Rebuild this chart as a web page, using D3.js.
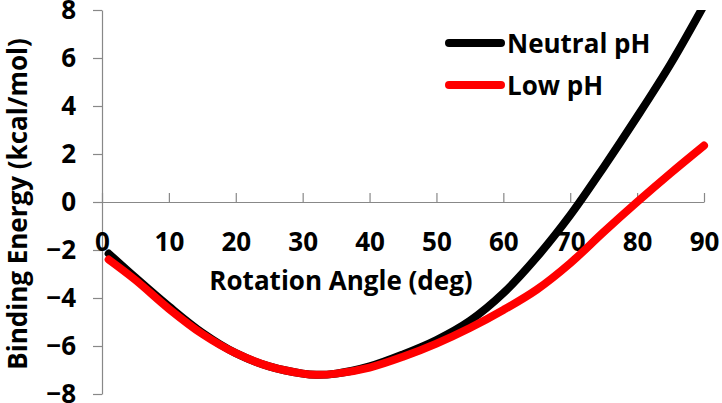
<!DOCTYPE html>
<html>
<head>
<meta charset="utf-8">
<script src="https://cdn.jsdelivr.net/npm/d3@7"></script>
<style>
  html, body { margin: 0; padding: 0; background: #fff; }
  svg { display: block; }
</style>
</head>
<body>
<div id="chart"></div>
<script>
// Rotation angle (deg) at which the binding energy was read
const angles = [1, 5, 10, 15, 20, 25, 30, 32, 35, 40, 45, 50, 55, 60, 65, 70, 75, 80, 85, 90];

// Binding energy (kcal/mol) per angle
const neutralPH = [-2.15, -3.15, -4.35, -5.45, -6.3, -6.85, -7.15, -7.2, -7.15, -6.85, -6.35, -5.75, -4.95, -3.8, -2.3, -0.55, 1.45, 3.55, 5.75, 8.2];
const lowPH = [-2.4, -3.25, -4.45, -5.5, -6.3, -6.85, -7.15, -7.2, -7.15, -6.9, -6.45, -5.9, -5.25, -4.5, -3.65, -2.55, -1.25, 0, 1.2, 2.35];

const xTicks = [0, 10, 20, 30, 40, 50, 60, 70, 80, 90];
const yTicks = [-8, -6, -4, -2, 0, 2, 4, 6, 8];

const seriesNames = ['Neutral pH', 'Low pH'];
const seriesColors = ['#000000', '#ff0000'];

const width = 722;
const height = 403;
const margin = { top: 10, right: 18, bottom: 9, left: 102 };
const FONT = '"Open Sans", "DejaVu Sans", sans-serif';

const svg = d3
  .select('#chart')
  .append('svg')
  .attr('width', width)
  .attr('height', height);

const x = d3
  .scaleLinear()
  .domain([0, 90])
  .range([margin.left, width - margin.right]);

const y = d3
  .scaleLinear()
  .domain([-8, 8])
  .range([height - margin.bottom, margin.top]);

// Clip lines to the plot area (the neutral curve runs off the top)
svg
  .append('clipPath')
  .attr('id', 'plot-clip')
  .append('rect')
  .attr('x', margin.left)
  .attr('y', margin.top)
  .attr('width', width - margin.left - margin.right + 10)
  .attr('height', height - margin.top - margin.bottom);

// Y axis
const yAxis = svg
  .append('g')
  .attr('transform', `translate(${x(0)},0)`)
  .call(
    d3.axisLeft(y)
      .tickValues(yTicks)
      .tickSize(9)
      .tickSizeOuter(0)
      .tickPadding(17)
  );

// X axis crosses at y = 0, ticks point up, labels sit below
const xAxis = svg
  .append('g')
  .attr('transform', `translate(0,${y(0)})`)
  .call(
    d3.axisBottom(x)
      .tickValues(xTicks)
      .tickSize(-9)
      .tickSizeOuter(0)
      .tickPadding(31)
  );

[xAxis, yAxis].forEach((axis) => {
  axis.select('.domain').attr('stroke', '#888').attr('stroke-width', 1.2);
  axis.selectAll('.tick line').attr('stroke', '#888').attr('stroke-width', 1.2);
  axis
    .selectAll('.tick text')
    .attr('fill', '#000')
    .style('font-family', FONT)
    .style('font-weight', 'bold')
    .style('font-size', '26px');
});

// Series lines, smoothed like the spreadsheet original
const line = d3
  .line()
  .x((d) => x(d[0]))
  .y((d) => y(d[1]))
  .curve(d3.curveCatmullRom.alpha(0.5));

const series = [neutralPH, lowPH];

svg
  .append('g')
  .attr('clip-path', 'url(#plot-clip)')
  .selectAll('path')
  .data(series)
  .join('path')
  .attr('d', (values) => line(angles.map((a, i) => [a, values[i]])))
  .attr('fill', 'none')
  .attr('stroke', (d, i) => seriesColors[i])
  .attr('stroke-width', 8)
  .attr('stroke-linecap', 'round')
  .attr('stroke-linejoin', 'round');

// Axis titles
svg
  .append('text')
  .attr('x', 341)
  .attr('y', 290)
  .attr('text-anchor', 'middle')
  .style('font-family', FONT)
  .style('font-weight', 'bold')
  .style('font-size', '26px')
  .text('Rotation Angle (deg)');

svg
  .append('text')
  .attr('transform', 'translate(27,204) rotate(-90)')
  .attr('text-anchor', 'middle')
  .style('font-family', FONT)
  .style('font-weight', 'bold')
  .style('font-size', '26px')
  .text('Binding Energy (kcal/mol)');

// Legend
const legend = svg
  .append('g')
  .attr('transform', 'translate(445,43)')
  .selectAll('g')
  .data(seriesNames)
  .join('g')
  .attr('transform', (d, i) => `translate(0,${i * 42})`);

legend
  .append('line')
  .attr('x1', 4)
  .attr('x2', 56)
  .attr('stroke', (d, i) => seriesColors[i])
  .attr('stroke-width', 8)
  .attr('stroke-linecap', 'round');

legend
  .append('text')
  .attr('x', 62)
  .attr('y', 10)
  .style('font-family', FONT)
  .style('font-weight', 'bold')
  .style('font-size', '26px')
  .text((d) => d);
</script>
</body>
</html>
